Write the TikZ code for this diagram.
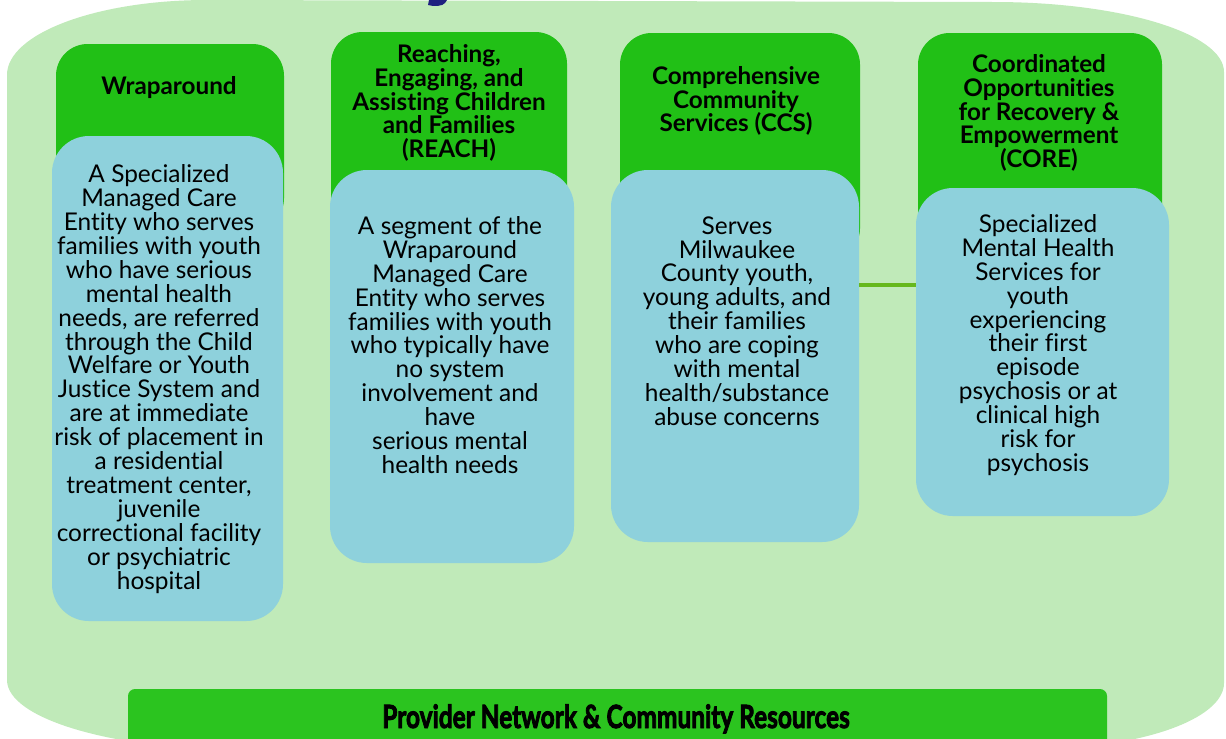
\documentclass[tikz,border=0pt]{standalone}
\usepackage{fontspec}
\usepackage{graphicx}
\setmainfont{Lato}[Ligatures=NoCommon]
\newfontfamily\bannerfont{Lato}[BoldFeatures={FakeBold=3}]
\usetikzlibrary{fit}
\definecolor{bgG}{HTML}{C0EAB9}
\definecolor{hdrG}{HTML}{21C016}
\definecolor{bodyB}{HTML}{8ED1DC}
\definecolor{banG}{HTML}{2BC41F}
\definecolor{lnkG}{HTML}{66B81C}
\definecolor{navy}{HTML}{1F2080}
\tikzset{
  hdrbox/.style={inner sep=0pt, fill=hdrG, draw=none, rounded corners=18pt},
  bodybox/.style={inner sep=0pt, fill=bodyB, draw=none, rounded corners=21pt},
  hdrtxt/.style={font=\bfseries\fontsize{13.8}{13.6}\selectfont, align=center, inner sep=0pt, text=black},
  bodytxt/.style={font=\fontsize{13.9}{13.6}\selectfont, align=center, inner sep=0pt, text=black},
  link/.style={draw=lnkG, line width=2.8pt}
}
\begin{document}
\begin{tikzpicture}[x=0.02cm,y=-0.02cm]
\useasboundingbox (0,0) rectangle (1226,738);
\clip (0,0) rectangle (1226,738);
\fill[white] (0,0) rectangle (1226,738);
% background panel
\fill[bgG] (7,75) .. controls (7,33.6) and (96.5,0) .. (207,0)
  -- (994,2) .. controls (1121,2) and (1224,33.3) .. (1224,72)
  -- (1224,683) .. controls (1224,719.5) and (1139,749) .. (1034,749)
  -- (244,750) .. controls (113,750) and (7,718.7) .. (7,680) -- cycle;
% fragment of the cut-off title (a letter's descender)
\fill[navy] (429,0) -- (447,0) -- (445,3) .. controls (443,6) and (434,7) .. (428,5) -- cycle;
% header boxes
\node[hdrbox, fit={(56,44) (284,230)}] (h1) {};
\node[hdrbox, fit={(331,32) (567,260)}] (h2) {};
\node[hdrbox, fit={(620,33) (860,260)}] (h3) {};
\node[hdrbox, fit={(918,33) (1162,280)}] (h4) {};
% body boxes
\node[bodybox, fit={(52,136) (283,621)}] (b1) {};
\node[bodybox, fit={(330,170) (574,563)}] (b2) {};
\node[bodybox, fit={(611,170) (859,542)}] (b3) {};
\node[bodybox, fit={(916,188) (1169,516)}] (b4) {};
% link
\coordinate (lk) at (0,285);
\draw[link] (b3.east |- lk) -- (b4.west |- lk);
% header texts
\node[hdrtxt] (t1) at (169,88) {Wraparound};
\node[hdrtxt] (t2) at (449,103) {Reaching,\\Engaging, and\\Assisting Children\\and Families\\(REACH)};
\node[hdrtxt] (t3) at (736,101) {Comprehensive\\Community\\Services (CCS)};
\node[hdrtxt] (t4) at (1039,113) {Coordinated\\Opportunities\\for Recovery \&\\Empowerment\\(CORE)};
% body texts
\node[bodytxt] (d1) at (159,379) {A Specialized\\Managed Care\\Entity who serves\\families with youth\\who have serious\\mental health\\needs, are referred\\through the Child\\Welfare or Youth\\Justice System and\\are at immediate\\risk of placement in\\a residential\\treatment center,\\juvenile\\correctional facility\\or psychiatric\\hospital};
\node[bodytxt] (d2) at (450,345) {A segment of the\\Wraparound\\Managed Care\\Entity who serves\\families with youth\\who typically have\\no system\\involvement and\\have\\serious mental\\health needs};
\node[bodytxt] (d3) at (737,321) {Serves\\Milwaukee\\County youth,\\young adults, and\\their families\\who are coping\\with mental\\health/substance\\abuse concerns};
\node[bodytxt] (d4) at (1038,345) {Specialized\\Mental Health\\Services for\\youth\\experiencing\\their first\\episode\\psychosis or at\\clinical high\\risk for\\psychosis};
% bottom banner
\node[inner sep=0pt, fill=banG, rounded corners=4pt, fit={(128,689) (1107,770)}] (pn) {};
\node[anchor=base, inner sep=0pt, text=black] (pnt) at (616,728) {\resizebox{266pt}{13.5pt}{\bannerfont\bfseries Provider Network \& Community Resources}};
\end{tikzpicture}
\end{document}
